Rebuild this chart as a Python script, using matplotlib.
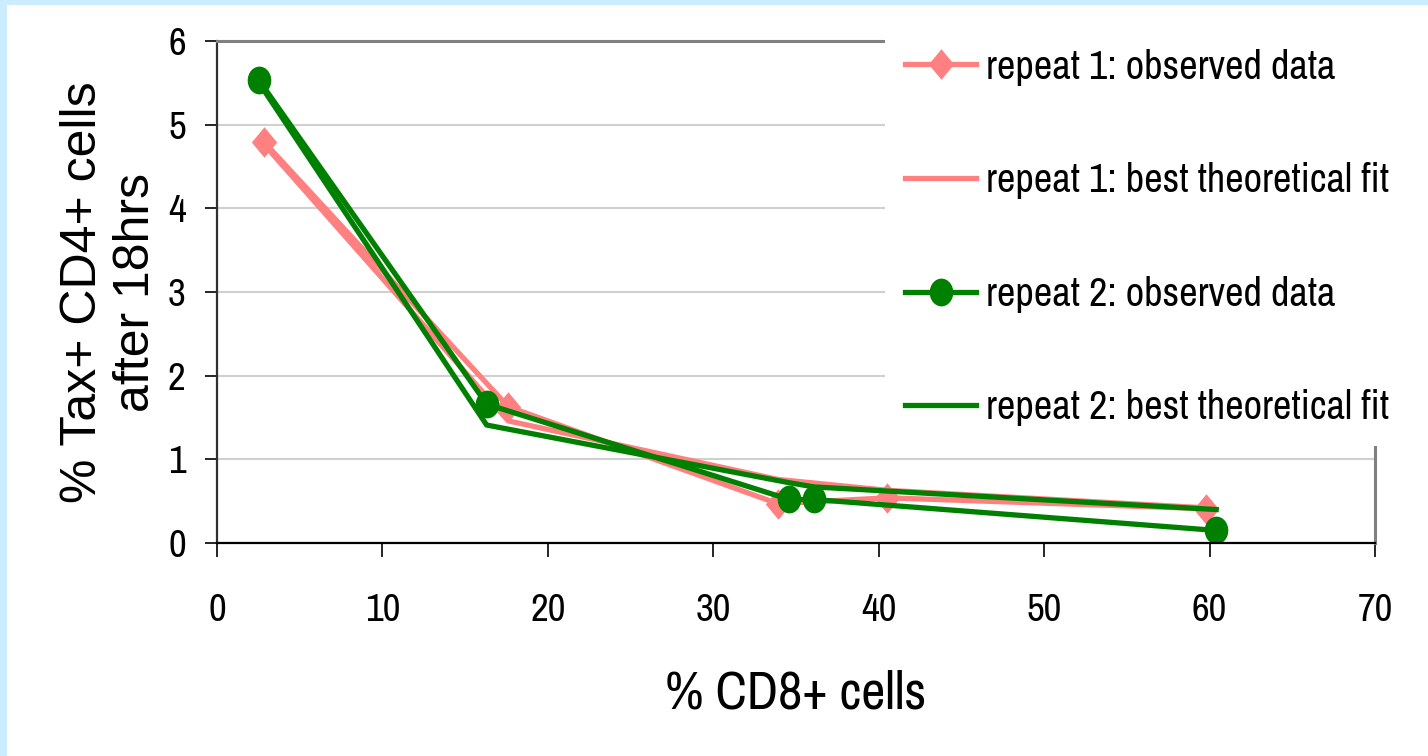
import numpy as np
import matplotlib
matplotlib.use("Agg")
import matplotlib.pyplot as plt
from matplotlib.path import Path
from matplotlib.patches import Rectangle

plt.rcParams['font.family'] = ['Archivo Narrow', 'Liberation Sans', 'DejaVu Sans']

# repeat 1
x_r1 = [2.86, 17.6, 33.9, 40.5, 59.8]
obs_r1 = [4.79, 1.63, 0.47, 0.54, 0.41]
fit_r1 = [4.76, 1.46, 0.76, 0.63, 0.42]

# repeat 2
x_r2 = [2.54, 16.3, 34.6, 36.1, 60.4]
obs_r2 = [5.53, 1.66, 0.52, 0.52, 0.15]
fit_r2 = [5.50, 1.41, 0.72, 0.67, 0.40]

labels = ['repeat 1: observed data', 'repeat 1: best theoretical fit',
          'repeat 2: observed data', 'repeat 2: best theoretical fit']

PINK = '#FF8080'
GREEN = '#008000'

# slightly tall markers (narrow diamond, upright ellipse)
diamond = Path([(0, 1), (0.83, 0), (0, -1), (-0.83, 0), (0, 1)],
               [Path.MOVETO, Path.LINETO, Path.LINETO, Path.LINETO, Path.CLOSEPOLY])
circ = Path.unit_circle()
ellipse = Path(circ.vertices * np.array([0.85, 1.0]), circ.codes)

fig = plt.figure(figsize=(14.28, 7.56), dpi=100, facecolor='white')
ax = fig.add_axes([217 / 1428, 1 - 543 / 756, (1375 - 217) / 1428, (543 - 41) / 756])

# light blue frame strips
fig.add_artist(Rectangle((0, 0), 7 / 1428, 1, transform=fig.transFigure,
                         facecolor='#CCECFF', edgecolor='none', zorder=-1))
fig.add_artist(Rectangle((0, 1 - 5 / 756), 1, 5 / 756, transform=fig.transFigure,
                         facecolor='#CCECFF', edgecolor='none', zorder=-1))

lw = 3.8
ax.plot(x_r1, obs_r1, color=PINK, lw=lw, marker=diamond, markersize=22,
        markeredgewidth=0, label=labels[0])
ax.plot(x_r1, fit_r1, color=PINK, lw=lw, label=labels[1])
ax.plot(x_r2, obs_r2, color=GREEN, lw=lw, marker=ellipse, markersize=20,
        markeredgewidth=0, label=labels[2])
ax.plot(x_r2, fit_r2, color=GREEN, lw=lw, label=labels[3])

ax.set_xlim(0, 70)
ax.set_ylim(0, 6)
ax.set_xticks(range(0, 71, 10))
ax.set_yticks(range(0, 7))
ax.grid(axis='y', color='#D0D0D0', lw=1.5)
ax.set_axisbelow(True)

ax.tick_params(axis='x', direction='out', length=10, width=1.2, pad=26, labelsize=28)
ax.tick_params(axis='y', direction='out', length=8.5, width=1.2, pad=14, labelsize=28)

ax.spines['left'].set_color('#303030')
ax.spines['left'].set_linewidth(1.6)
ax.spines['bottom'].set_color('black')
ax.spines['bottom'].set_linewidth(1.6)
for s in ('top', 'right'):
    ax.spines[s].set_color('#808080')
    ax.spines[s].set_linewidth(2.2)

ax.set_xlabel('% CD8+ cells', fontsize=38, labelpad=30)
ax.set_ylabel('% Tax+ CD4+ cells\nafter 18hrs', fontsize=36,
              family=['Liberation Sans', 'DejaVu Sans'], multialignment='center')
ax.yaxis.set_label_coords(-0.05, 0.5)

leg = ax.legend(loc='upper left', bbox_to_anchor=(0.577, 1.025), borderaxespad=0,
                fontsize=29, frameon=True, fancybox=False, framealpha=1,
                facecolor='white', edgecolor='none', borderpad=0.5,
                handlelength=1.75, handletextpad=0.25, labelspacing=1.9)

fig.savefig('out.png', dpi=100, facecolor='white')
